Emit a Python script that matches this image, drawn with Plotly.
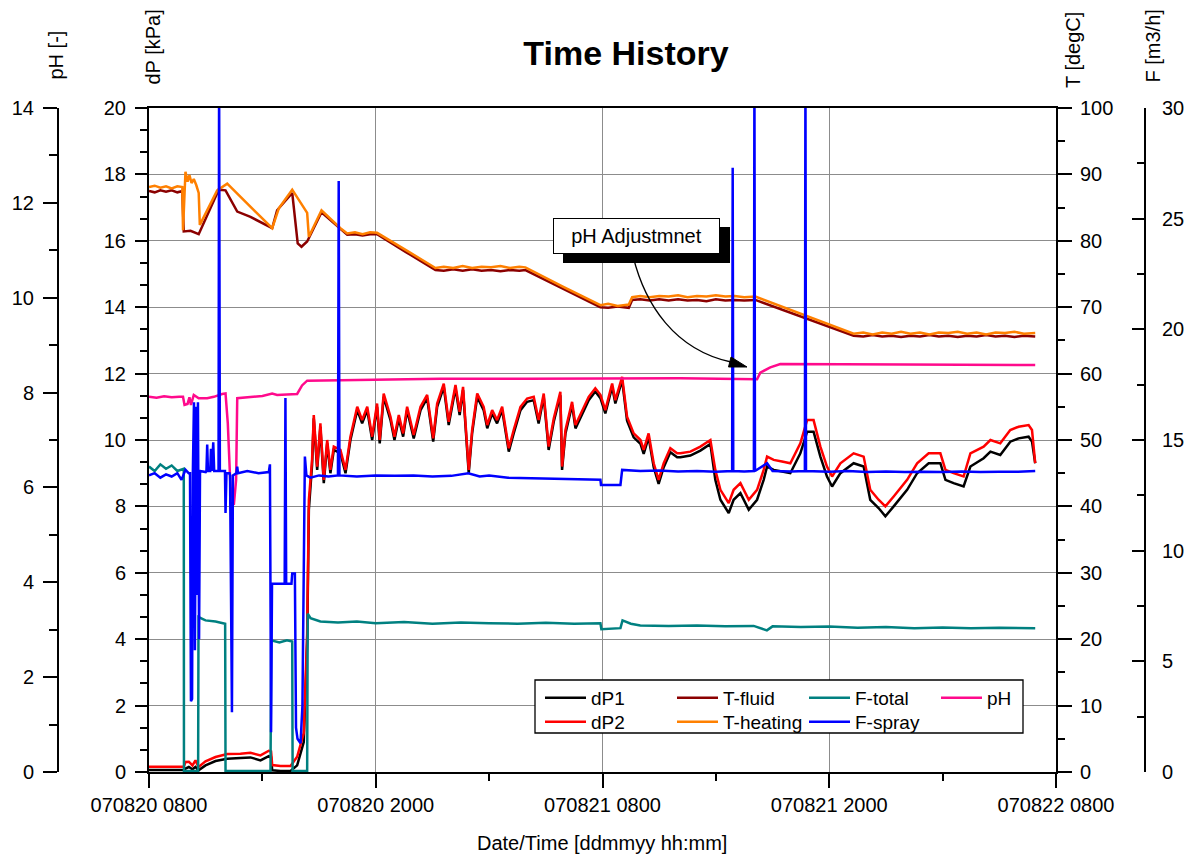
import pandas as pd
import plotly.graph_objects as go

# ---------------------------------------------------------------------------
# Measurement log, 070820 0800 .. 070822 0800 (times as hours after start)
# ---------------------------------------------------------------------------
START = pd.Timestamp("2007-08-20 08:00")
END = pd.Timestamp("2007-08-22 08:00")

DP_HOURS = [
    0.00, 0.87, 1.84, 1.93, 2.11, 2.30, 2.46, 2.62, 2.99, 3.52,
    4.14, 4.84, 5.37, 5.90, 6.34, 6.46, 6.52, 6.96, 7.49, 7.84,
    8.19, 8.37, 8.46, 8.63, 8.72, 8.90, 9.07, 9.25, 9.43, 9.60,
    9.78, 10.13, 10.40, 10.66, 11.02, 11.28, 11.55, 11.81, 12.07, 12.21,
    12.42, 12.78, 12.99, 13.22, 13.45, 13.66, 14.01, 14.37, 14.72, 15.04,
    15.25, 15.60, 15.86, 16.22, 16.44, 16.62, 16.92, 17.10, 17.37, 17.71,
    17.90, 18.16, 18.42, 18.69, 19.04, 19.30, 19.66, 20.01, 20.36, 20.62,
    20.89, 21.15, 21.42, 21.77, 21.86, 22.04, 22.39, 22.57, 22.92, 23.27,
    23.62, 23.89, 24.15, 24.51, 24.68, 25.04, 25.30, 25.65, 26.01, 26.18,
    26.44, 26.71, 26.97, 27.24, 27.59, 27.95, 28.12, 28.65, 29.18, 29.71,
    29.97, 30.24, 30.68, 30.94, 31.30, 31.74, 32.18, 32.53, 32.71, 33.06,
    33.50, 33.94, 34.47, 34.83, 35.17, 35.53, 35.88, 36.15, 36.59, 37.29,
    37.82, 38.17, 38.61, 38.97, 39.41, 40.12, 40.65, 41.26, 41.88, 42.15,
    42.58, 43.11, 43.47, 44.17, 44.53, 45.05, 45.58, 46.02, 46.55, 46.73,
    46.90,
]
DP2_KPA = [
    0.16, 0.15, 0.16, 0.30, 0.31, 0.20, 0.35, 0.15, 0.32, 0.45,
    0.54, 0.55, 0.58, 0.50, 0.64, 0.62, 0.21, 0.18, 0.18, 0.46,
    1.17, 4.18, 8.19, 9.40, 10.75, 9.20, 10.50, 8.80, 10.00, 9.10,
    9.80, 9.70, 9.10, 10.10, 11.00, 10.60, 11.00, 10.10, 11.10, 10.00,
    11.40, 10.70, 10.10, 10.75, 10.20, 11.00, 10.15, 11.00, 11.36, 10.05,
    11.10, 11.70, 10.55, 11.66, 10.85, 11.60, 9.10, 10.30, 11.40, 11.00,
    10.45, 10.90, 10.60, 11.00, 9.75, 10.30, 11.00, 11.25, 11.30, 10.60,
    11.40, 9.80, 10.65, 11.45, 9.20, 10.30, 11.15, 10.45, 10.90, 11.30,
    11.56, 11.36, 10.90, 11.70, 11.20, 11.90, 10.70, 10.20, 10.00, 9.70,
    10.20, 9.30, 8.80, 9.30, 9.75, 9.60, 9.60, 9.65, 9.80, 10.00,
    9.10, 8.50, 8.10, 8.50, 8.70, 8.20, 8.50, 9.10, 9.50, 9.40,
    9.35, 9.30, 9.90, 10.60, 10.60, 9.80, 9.20, 8.90, 9.30, 9.60,
    9.50, 8.50, 8.20, 8.00, 8.30, 8.80, 9.30, 9.60, 9.60, 9.10,
    9.00, 8.90, 9.60, 9.80, 10.00, 9.90, 10.30, 10.40, 10.45, 10.30,
    9.30,
]
DP1_KPA = [
    0.06, 0.05, 0.06, 0.10, 0.15, 0.08, 0.15, 0.05, 0.20, 0.33,
    0.40, 0.42, 0.44, 0.35, 0.48, 0.45, 0.05, 0.03, 0.03, 0.20,
    0.90, 3.90, 7.90, 9.25, 10.65, 9.10, 10.40, 8.70, 9.90, 9.00,
    9.70, 9.60, 9.00, 10.00, 10.90, 10.50, 10.90, 10.00, 11.00, 9.90,
    11.30, 10.60, 10.00, 10.65, 10.10, 10.90, 10.05, 10.90, 11.26, 9.95,
    11.00, 11.60, 10.45, 11.56, 10.75, 11.50, 9.00, 10.20, 11.30, 10.90,
    10.35, 10.80, 10.50, 10.90, 9.65, 10.20, 10.90, 11.15, 11.20, 10.50,
    11.30, 9.70, 10.55, 11.35, 9.10, 10.20, 11.05, 10.35, 10.80, 11.20,
    11.46, 11.26, 10.80, 11.60, 11.10, 11.80, 10.58, 10.08, 9.88, 9.58,
    10.08, 9.18, 8.68, 9.18, 9.63, 9.48, 9.48, 9.53, 9.68, 9.88,
    8.80, 8.20, 7.80, 8.20, 8.40, 7.90, 8.20, 8.80, 9.20, 9.10,
    9.05, 9.00, 9.60, 10.25, 10.25, 9.50, 8.90, 8.60, 9.00, 9.30,
    9.20, 8.20, 7.95, 7.70, 8.00, 8.50, 9.00, 9.30, 9.30, 8.80,
    8.70, 8.60, 9.20, 9.45, 9.65, 9.55, 9.95, 10.05, 10.10, 9.95,
    9.30,
]

T_FLUID_HOURS = [
    0.00, 0.30, 0.60, 0.90, 1.20, 1.50, 1.76, 1.84, 2.20, 2.63,
    3.69, 4.05, 4.67, 5.37, 6.52, 6.78, 7.58, 7.87, 8.07, 8.37,
    9.13, 10.13, 10.49, 10.90, 11.30, 11.70, 12.07, 13.60, 15.16, 15.60,
    16.10, 16.60, 17.10, 17.60, 18.10, 18.60, 19.10, 19.60, 19.92, 21.90,
    23.89, 24.30, 24.80, 25.39, 25.57, 26.00, 26.50, 27.00, 27.50, 28.00,
    28.50, 29.00, 29.50, 30.00, 30.50, 31.00, 31.50, 32.09, 34.70, 37.29,
    37.80, 38.30, 38.80, 39.30, 39.80, 40.30, 40.80, 41.30, 41.80, 42.30,
    42.80, 43.30, 43.80, 44.30, 44.80, 45.30, 45.80, 46.30, 46.90,
]
T_FLUID_C = [
    87.5, 87.3, 87.6, 87.4, 87.6, 87.3, 87.5, 81.4, 81.5, 81.0,
    87.7, 87.6, 84.4, 83.6, 81.9, 84.6, 87.2, 79.6, 79.1, 79.9,
    84.3, 81.7, 80.9, 81.0, 80.8, 81.0, 81.0, 78.3, 75.6, 75.5,
    75.7, 75.5, 75.7, 75.5, 75.6, 75.4, 75.6, 75.5, 75.6, 72.8,
    70.0, 69.9, 70.1, 69.9, 71.1, 71.2, 71.0, 71.2, 71.0, 71.2,
    71.0, 71.1, 70.9, 71.2, 71.0, 71.1, 71.0, 71.1, 68.4, 65.7,
    65.6, 65.8, 65.6, 65.7, 65.5, 65.7, 65.6, 65.8, 65.6, 65.7,
    65.5, 65.7, 65.6, 65.8, 65.6, 65.7, 65.5, 65.7, 65.6,
]

T_HEAT_HOURS = [
    0.00, 0.30, 0.60, 0.90, 1.20, 1.50, 1.76, 1.80, 1.93, 2.04,
    2.14, 2.25, 2.37, 2.50, 2.63, 2.69, 3.61, 4.14, 6.52, 6.87,
    7.58, 8.37, 8.46, 9.13, 10.13, 10.49, 10.90, 11.30, 11.70, 12.07,
    13.60, 15.16, 15.60, 16.10, 16.60, 17.10, 17.60, 18.10, 18.60, 19.10,
    19.60, 19.92, 21.90, 23.89, 24.30, 24.80, 25.39, 25.57, 26.00, 26.50,
    27.00, 27.50, 28.00, 28.50, 29.00, 29.50, 30.00, 30.50, 31.00, 31.50,
    32.09, 34.70, 37.29, 37.80, 38.30, 38.80, 39.30, 39.80, 40.30, 40.80,
    41.30, 41.80, 42.30, 42.80, 43.30, 43.80, 44.30, 44.80, 45.30, 45.80,
    46.30, 46.90,
]
T_HEAT_C = [
    88.1, 88.3, 88.0, 88.2, 87.9, 88.2, 88.1, 81.6, 90.4, 88.9,
    89.9, 88.7, 89.3, 88.4, 87.2, 82.4, 87.6, 88.6, 81.9, 84.9,
    87.7, 84.2, 80.6, 84.6, 81.9, 81.1, 81.3, 81.0, 81.3, 81.2,
    78.6, 75.9, 76.1, 75.9, 76.2, 75.9, 76.1, 76.0, 76.2, 75.9,
    76.1, 76.0, 73.1, 70.3, 70.5, 70.2, 70.4, 71.5, 71.7, 71.5,
    71.7, 71.6, 71.8, 71.5, 71.7, 71.6, 71.8, 71.6, 71.7, 71.5,
    71.6, 68.8, 66.0, 66.2, 65.9, 66.2, 66.0, 66.3, 66.0, 66.2,
    65.9, 66.2, 66.1, 66.3, 66.0, 66.2, 65.9, 66.2, 66.1, 66.3,
    66.0, 66.1,
]

F_TOTAL_HOURS = [
    0.00, 0.30, 0.60, 0.90, 1.20, 1.50, 1.84, 1.85, 2.60, 2.62,
    2.99, 3.52, 4.03, 4.05, 6.43, 6.47, 6.90, 7.30, 7.58, 7.60,
    8.37, 8.40, 8.55, 9.07, 10.00, 11.00, 12.00, 13.50, 15.00, 16.50,
    18.00, 19.50, 21.00, 22.50, 23.89, 23.94, 24.95, 25.06, 25.50, 26.00,
    27.50, 29.00, 30.50, 32.00, 32.70, 33.00, 34.50, 36.00, 37.50, 39.00,
    40.50, 42.00, 43.50, 45.00, 46.90,
]
F_TOTAL_M3H = [
    13.8, 13.6, 13.9, 13.7, 13.85, 13.6, 13.7, 0.05, 0.05, 7.0,
    6.85, 6.8, 6.7, 0.05, 0.05, 5.95, 5.85, 5.95, 5.9, 0.05,
    0.05, 7.15, 6.95, 6.8, 6.75, 6.8, 6.72, 6.78, 6.7, 6.75,
    6.72, 6.7, 6.74, 6.7, 6.72, 6.45, 6.5, 6.85, 6.7, 6.62,
    6.6, 6.62, 6.58, 6.6, 6.4, 6.58, 6.55, 6.57, 6.52, 6.55,
    6.5, 6.53, 6.5, 6.52, 6.5,
]

F_SPRAY_HOURS = [
    0.00, 0.30, 0.60, 0.90, 1.20, 1.50, 1.72, 1.84, 1.93, 2.10,
    2.17, 2.22, 2.28, 2.32, 2.38, 2.43, 2.49, 2.54, 2.59, 2.65,
    2.70, 3.00, 3.04, 3.08, 3.12, 3.24, 3.28, 3.33, 3.40, 3.45,
    3.68, 3.71, 3.75, 4.02, 4.05, 4.10, 4.26, 4.29, 4.34, 4.39,
    4.44, 4.62, 4.67, 4.71, 5.20, 5.80, 6.34, 6.40, 6.46, 6.51,
    7.00, 7.18, 7.22, 7.26, 7.54, 7.58, 7.72, 7.78, 7.86, 8.02,
    8.12, 8.25, 8.33, 8.54, 9.00, 9.50, 10.00, 10.04, 10.08, 11.00,
    12.00, 13.00, 14.00, 15.00, 16.00, 16.90, 17.50, 18.00, 19.00, 20.00,
    21.00, 22.00, 23.00, 23.89, 23.92, 24.50, 24.95, 25.04, 26.00, 27.00,
    28.00, 29.00, 30.00, 30.86, 30.89, 30.92, 31.50, 32.01, 32.04, 32.07,
    32.71, 33.00, 34.00, 34.71, 34.74, 34.77, 36.00, 37.00, 38.00, 39.00,
    40.00, 41.00, 42.00, 43.00, 44.00, 45.00, 46.00, 46.90,
]
F_SPRAY_M3H = [
    13.4, 13.5, 13.3, 13.45, 13.35, 13.5, 13.2, 13.45, 13.65, 13.5,
    13.5, 3.2, 3.3, 13.5, 16.7, 5.5, 16.5, 8.0, 16.7, 6.0,
    13.6, 13.55, 13.6, 14.8, 13.6, 13.6, 14.6, 13.6, 14.9, 13.6,
    13.6, 32.0, 13.6, 13.6, 11.7, 13.5, 13.5, 13.4, 5.0, 2.7,
    13.4, 13.5, 13.8, 13.5, 13.6, 13.5, 13.55, 13.9, 1.8, 8.5,
    8.5, 8.5, 16.9, 8.5, 8.5, 8.97, 8.97, 2.0, 1.5, 1.3,
    3.0, 14.25, 13.4, 13.3, 13.4, 13.35, 13.4, 26.7, 13.4, 13.35,
    13.4, 13.38, 13.4, 13.35, 13.38, 13.5, 13.35, 13.4, 13.3, 13.28,
    13.25, 13.22, 13.2, 13.2, 12.97, 12.97, 12.97, 13.65, 13.6, 13.62,
    13.58, 13.6, 13.57, 13.6, 27.3, 13.6, 13.58, 13.6, 32.0, 13.6,
    13.95, 13.6, 13.58, 13.6, 32.0, 13.6, 13.57, 13.6, 13.55, 13.58,
    13.55, 13.57, 13.55, 13.58, 13.55, 13.57, 13.56, 13.6,
]

PH_HOURS = [
    0.00, 0.40, 0.80, 1.20, 1.60, 1.80, 1.88, 2.04, 2.14, 2.22,
    2.37, 2.63, 3.08, 3.43, 3.87, 4.05, 4.17, 4.31, 4.49, 4.61,
    4.67, 5.37, 6.00, 6.52, 6.78, 7.30, 7.84, 8.10, 8.37, 10.13,
    15.42, 20.00, 23.89, 28.12, 32.18, 32.35, 32.88, 33.41, 40.00, 46.90,
]
PH_VALUES = [
    7.91, 7.89, 7.92, 7.90, 7.91, 7.91, 7.74, 7.76, 7.90, 7.74,
    7.95, 7.88, 7.88, 7.91, 7.97, 7.98, 7.35, 6.02, 5.63, 6.16,
    7.88, 7.90, 7.93, 7.98, 7.95, 7.96, 7.97, 8.15, 8.25, 8.26,
    8.29, 8.29, 8.30, 8.30, 8.28, 8.42, 8.53, 8.60, 8.59, 8.58,
]

# ---------------------------------------------------------------------------
# Page geometry (pixels)
# ---------------------------------------------------------------------------
W, H = 1186, 856
ML, MR, MT, MB = 58, 41, 108, 84          # paper spans the pH axis .. F axis
PW, PH = W - ML - MR, H - MT - MB
PLOT_LEFT, PLOT_RIGHT = 149, 1056
FONT = "Arial, Liberation Sans, sans-serif"
HOUR_MS = 3600 * 1000


def paper_x(px):
    return (px - ML) / PW


def paper_y(py):
    return (H - MB - py) / PH


def pt(px, py):
    return f"{paper_x(px):.5f},{paper_y(py):.5f}"


def to_time(hours):
    return START + pd.to_timedelta(pd.Series(hours), unit="h")


fig = go.Figure()

line_traces = [
    ("dP1", DP_HOURS, DP1_KPA, "y", "#000000", "legend"),
    ("dP2", DP_HOURS, DP2_KPA, "y", "#ff0000", "legend2"),
    ("T-fluid", T_FLUID_HOURS, T_FLUID_C, "y3", "#8b0000", "legend"),
    ("T-heating", T_HEAT_HOURS, T_HEAT_C, "y3", "#ff8000", "legend2"),
    ("F-total", F_TOTAL_HOURS, F_TOTAL_M3H, "y4", "#008080", "legend"),
    ("pH", PH_HOURS, PH_VALUES, "y2", "#ff0a8c", "legend"),
    ("F-spray", F_SPRAY_HOURS, F_SPRAY_M3H, "y4", "#0000ff", "legend2"),
]
for name, hours, values, yax, color, leg in line_traces:
    fig.add_trace(go.Scatter(
        x=to_time(hours), y=values, name=name, mode="lines",
        yaxis=yax, legend=leg,
        line=dict(color=color, width=2.5),
    ))

tickfont = dict(family=FONT, size=20, color="black")
common = dict(showline=True, linecolor="black", linewidth=2, tickcolor="black",
              tickwidth=2, tickfont=tickfont, zeroline=False, automargin=False)
grid = "#8c8c8c"
legend_style = dict(
    orientation="h", x=paper_x(540), xanchor="left", yanchor="top",
    bgcolor="rgba(0,0,0,0)", borderwidth=0,
    font=dict(family=FONT, size=19, color="black"),
    entrywidth=76, entrywidthmode="pixels", itemwidth=41,
)

fig.update_layout(
    width=W, height=H,
    margin=dict(l=ML, r=MR, t=MT, b=MB, pad=0),
    paper_bgcolor="white", plot_bgcolor="white",
    font=dict(family=FONT, color="black"),
    title=dict(text="<b>Time History</b>", font=dict(family=FONT, size=34, color="black"),
               x=626 / W, y=1 - 53 / H, xref="container", yref="container",
               xanchor="center", yanchor="middle"),
    xaxis=dict(
        common, type="date", domain=[paper_x(PLOT_LEFT), paper_x(PLOT_RIGHT)],
        range=[START, END], tick0=START, dtick=12 * HOUR_MS, tickformat="%y%m%d %H%M",
        ticks="outside", ticklen=14, mirror=True, anchor="y",
        showgrid=True, gridcolor=grid, gridwidth=1,
        minor=dict(tick0=START, dtick=6 * HOUR_MS, ticks="outside", ticklen=7,
                   tickwidth=2, tickcolor="black", showgrid=False),
    ),
    yaxis=dict(
        common, range=[0, 20], tick0=0, dtick=2, ticks="outside", ticklen=12,
        ticklabelstandoff=5,
        showgrid=True, gridcolor=grid, gridwidth=1, anchor="x", side="left",
        minor=dict(dtick=2 / 3, ticks="outside", ticklen=7, tickwidth=2,
                   tickcolor="black", showgrid=False),
    ),
    yaxis2=dict(
        common, overlaying="y", anchor="free", position=0, side="left",
        range=[0, 14], tick0=0, dtick=2, ticks="outside", ticklen=14, showgrid=False,
        ticklabelstandoff=5,
        minor=dict(dtick=1, ticks="outside", ticklen=8, tickwidth=2,
                   tickcolor="black", showgrid=False),
    ),
    yaxis3=dict(
        common, overlaying="y", anchor="x", side="right",
        range=[0, 100], tick0=0, dtick=10, ticks="outside", ticklen=14, showgrid=False,
        ticklabelstandoff=4,
        minor=dict(dtick=5, ticks="outside", ticklen=7, tickwidth=2,
                   tickcolor="black", showgrid=False),
    ),
    yaxis4=dict(
        common, overlaying="y", anchor="free", position=1, side="right",
        range=[0, 30], tick0=0, dtick=5, ticks="inside", ticklen=12, showgrid=False,
        ticklabelstandoff=12,
        minor=dict(dtick=2.5, ticks="inside", ticklen=7, tickwidth=2,
                   tickcolor="black", showgrid=False),
    ),
    legend=dict(legend_style, y=paper_y(679)),
    legend2=dict(legend_style, y=paper_y(703)),
    showlegend=True,
)

# legend frame, call-out shadow and curved pointer
fig.add_shape(type="rect", xref="paper", yref="paper",
              x0=paper_x(535), x1=paper_x(1023), y0=paper_y(733), y1=paper_y(680),
              fillcolor="white", line=dict(color="black", width=1.3), layer="above")
fig.add_shape(type="rect", xref="paper", yref="paper",
              x0=paper_x(563), x1=paper_x(730), y0=paper_y(263), y1=paper_y(227),
              fillcolor="black", line=dict(width=0), layer="above")
fig.add_shape(type="path", xref="paper", yref="paper",
              path=f"M{pt(633, 256)} C{pt(645, 305)} {pt(675, 350)} {pt(731, 362)}",
              line=dict(color="black", width=1.3), layer="above")
fig.add_shape(type="path", xref="paper", yref="paper",
              path=f"M{pt(747, 367)} L{pt(731, 357)} L{pt(728.5, 367)} Z",
              fillcolor="black", line=dict(color="black", width=1), layer="above")

fig.add_annotation(
    text="pH Adjustmnet", xref="paper", yref="paper",
    x=paper_x(636.4), y=paper_y(236.3), xanchor="center", yanchor="middle",
    showarrow=False, font=dict(family=FONT, size=20, color="black"),
    bgcolor="white", bordercolor="black", borderwidth=1, borderpad=1,
    width=163, height=32,
)

# axis titles, written upward above each axis
for text, px, py in [("pH [-]", 56, 82), ("dP [kPa]", 152, 87),
                     ("T [degC]", 1073, 90), ("F [m3/h]", 1152, 85)]:
    fig.add_annotation(
        text=text, xref="paper", yref="paper", x=paper_x(px), y=paper_y(py),
        xanchor="center", yanchor="bottom", textangle=-90, showarrow=False,
        font=dict(family=FONT, size=20, color="black"),
    )

fig.add_annotation(
    text="Date/Time [ddmmyy hh:mm]", xref="paper", yref="paper",
    x=paper_x(602), y=paper_y(843), xanchor="center", yanchor="middle",
    showarrow=False, font=dict(family=FONT, size=20, color="black"),
)

fig.write_html("out.html")
